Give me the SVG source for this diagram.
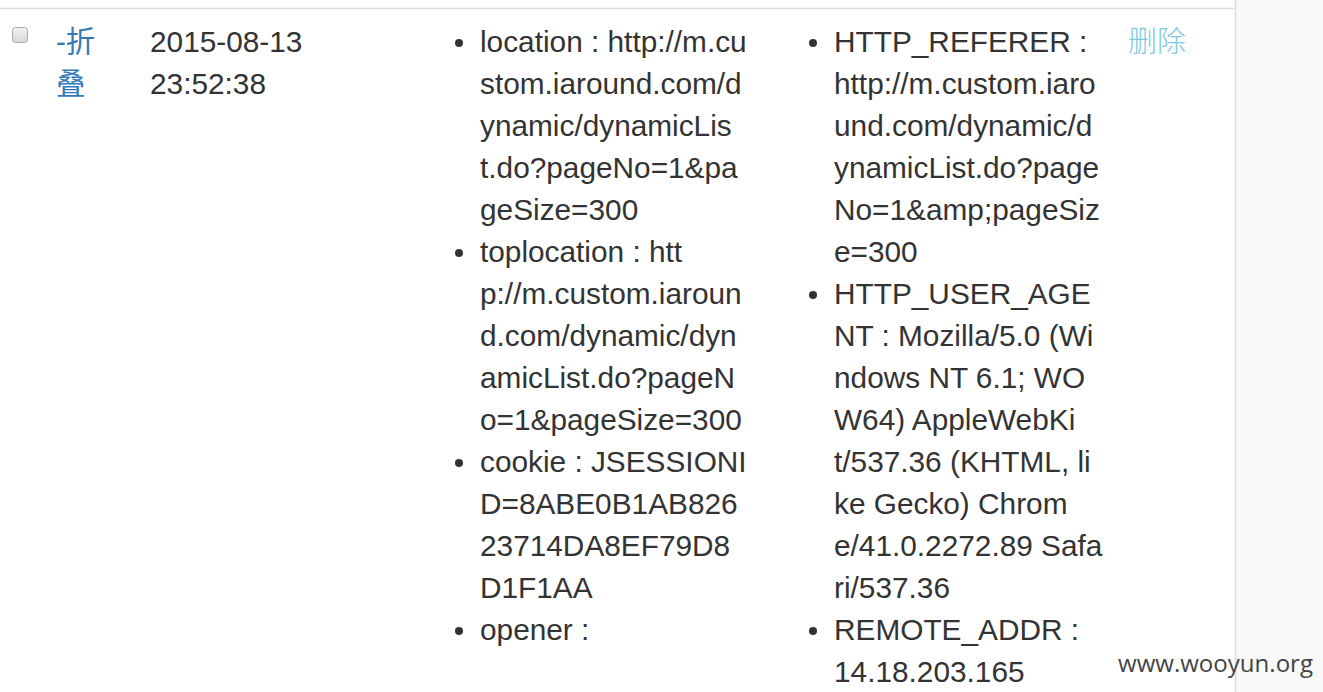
<svg xmlns="http://www.w3.org/2000/svg" width="1323" height="692" viewBox="0 0 1323 692">
<defs>
<linearGradient id="cb" x1="0" y1="0" x2="0" y2="1">
<stop offset="0" stop-color="#f2f2f2"/>
<stop offset="1" stop-color="#d8d8d8"/>
</linearGradient>
</defs>
<style>
.t{font-family:"Liberation Sans",Arial,sans-serif;font-size:29.8px;fill:#333}
.link{font-family:"Liberation Sans","Noto Sans CJK SC",sans-serif;font-size:29.4px;fill:#337ab7}
.del{font-family:"Noto Sans CJK SC",sans-serif;font-size:29px;font-weight:300;fill:#7ccbe0}
.b{fill:#333}
.wm{font-family:"Open Sans","Noto Sans",sans-serif;font-size:24px;fill:#444}
</style>
<rect x="0" y="0" width="1323" height="692" fill="#fff"/>
<rect x="1235" y="0" width="88" height="692" fill="#f9f9f9"/>
<line x1="1235.5" y1="0" x2="1235.5" y2="692" stroke="#ddd" stroke-width="1.5"/>
<line x1="0" y1="8.5" x2="1235" y2="8.5" stroke="#ddd" stroke-width="1.5"/>

<g id="checkbox">
<rect x="12.5" y="27.5" width="15" height="15" rx="3" fill="url(#cb)" stroke="#a8a8a8"/>
</g>

<g id="toggle">
<text class="link" x="56" y="52">-折</text>
<text class="link" x="56" y="94">叠</text>
</g>

<g id="date">
<text class="t" x="150" y="52">2015-08-13</text>
<text class="t" x="150" y="94">23:52:38</text>
</g>

<g id="col3">
<circle class="b" cx="459" cy="43" r="4"/>
<circle class="b" cx="459" cy="253" r="4"/>
<circle class="b" cx="459" cy="463" r="4"/>
<circle class="b" cx="459" cy="631" r="4"/>
<text class="t" x="480" y="52">location : http://m.cu</text>
<text class="t" x="480" y="94">stom.iaround.com/d</text>
<text class="t" x="480" y="136">ynamic/dynamicLis</text>
<text class="t" x="480" y="178">t.do?pageNo=1&amp;pa</text>
<text class="t" x="480" y="220">geSize=300</text>
<text class="t" x="480" y="262">toplocation : htt</text>
<text class="t" x="480" y="304">p://m.custom.iaroun</text>
<text class="t" x="480" y="346">d.com/dynamic/dyn</text>
<text class="t" x="480" y="388">amicList.do?pageN</text>
<text class="t" x="480" y="430">o=1&amp;pageSize=300</text>
<text class="t" x="480" y="472">cookie : JSESSIONI</text>
<text class="t" x="480" y="514">D=8ABE0B1AB826</text>
<text class="t" x="480" y="556">23714DA8EF79D8</text>
<text class="t" x="480" y="598">D1F1AA</text>
<text class="t" x="480" y="640">opener :</text>
</g>

<g id="col4">
<circle class="b" cx="813" cy="43" r="4"/>
<circle class="b" cx="813" cy="295" r="4"/>
<circle class="b" cx="813" cy="631" r="4"/>
<text class="t" x="834" y="52">HTTP_REFERER :</text>
<text class="t" x="834" y="94">http://m.custom.iaro</text>
<text class="t" x="834" y="136">und.com/dynamic/d</text>
<text class="t" x="834" y="178">ynamicList.do?page</text>
<text class="t" x="834" y="220">No=1&amp;amp;pageSiz</text>
<text class="t" x="834" y="262">e=300</text>
<text class="t" x="834" y="304">HTTP_USER_AGE</text>
<text class="t" x="834" y="346">NT : Mozilla/5.0 (Wi</text>
<text class="t" x="834" y="388">ndows NT 6.1; WO</text>
<text class="t" x="834" y="430">W64) AppleWebKi</text>
<text class="t" x="834" y="472">t/537.36 (KHTML, li</text>
<text class="t" x="834" y="514">ke Gecko) Chrom</text>
<text class="t" x="834" y="556">e/41.0.2272.89 Safa</text>
<text class="t" x="834" y="598">ri/537.36</text>
<text class="t" x="834" y="640">REMOTE_ADDR :</text>
<text class="t" x="834" y="682">14.18.203.165</text>
</g>

<g id="delete">
<text class="del" x="1128" y="52">删除</text>
</g>

<g id="watermark">
<text class="wm" x="1118" y="672" textLength="195" lengthAdjust="spacingAndGlyphs">www.wooyun.org</text>
</g>
</svg>
